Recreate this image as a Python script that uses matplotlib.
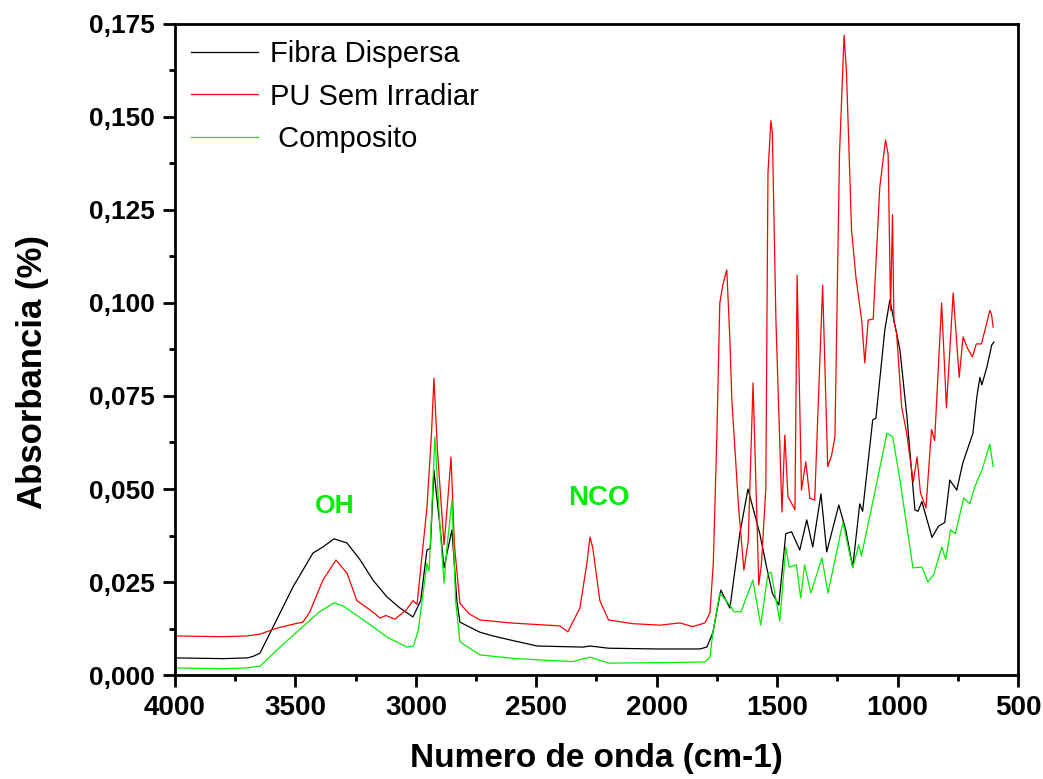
import matplotlib
matplotlib.use("Agg")
from matplotlib import pyplot as plt
from matplotlib.ticker import MultipleLocator, FuncFormatter

# Fibra Dispersa (preto)
wn_fibra = [4000, 3800, 3700, 3676, 3647, 3593, 3510, 3427, 3386, 3340, 3286, 3232, 3178, 3120,
            3066, 3012, 2980, 2954, 2940, 2925, 2900, 2883, 2870, 2850, 2830, 2817, 2734,
            2680, 2600, 2497, 2306, 2277, 2200, 2000, 1821, 1792, 1767, 1734, 1696, 1655,
            1621, 1572, 1543, 1520, 1493, 1464, 1440, 1406, 1377, 1352, 1318, 1294, 1244,
            1215, 1186, 1157, 1145, 1103, 1090, 1053, 1032, 990, 961, 928, 915, 899, 857,
            830, 804, 783, 754, 729, 687, 671, 658, 650, 629, 609, 600]
abs_fibra = [0.0046, 0.0044, 0.0046, 0.0050, 0.0059, 0.0129, 0.0237, 0.0328, 0.0344, 0.0366,
             0.0355, 0.0310, 0.0255, 0.0210, 0.0180, 0.0156, 0.0200, 0.0336, 0.0340, 0.0550,
             0.0400, 0.0288, 0.0330, 0.0390, 0.0200, 0.0142, 0.0115, 0.0105, 0.0093, 0.0078,
             0.0075, 0.0078, 0.0072, 0.0070, 0.0070, 0.0075, 0.0113, 0.0228, 0.0180, 0.0380,
             0.0500, 0.0380, 0.0288, 0.0220, 0.0188, 0.0380, 0.0385, 0.0336, 0.0417, 0.0344,
             0.0487, 0.0331, 0.0457, 0.0390, 0.0290, 0.0460, 0.0440, 0.0686, 0.0690, 0.0927,
             0.1008, 0.0874, 0.0694, 0.0444, 0.0440, 0.0466, 0.0370, 0.0400, 0.0410, 0.0524,
             0.0497, 0.0570, 0.0650, 0.0747, 0.0800, 0.0780, 0.0828, 0.0887, 0.0895]

# PU Sem Irradiar (vermelho)
wn_pu = [4000, 3800, 3700, 3647, 3577, 3500, 3469, 3440, 3386, 3332, 3286, 3245, 3195, 3170,
         3149, 3124, 3087, 3040, 3012, 2995, 2954, 2935, 2925, 2910, 2883, 2870, 2854, 2840,
         2817, 2780, 2734, 2609, 2402, 2369, 2319, 2290, 2277, 2265, 2236, 2200, 2100, 1987,
         1904, 1850, 1800, 1779, 1765, 1750, 1738, 1725, 1709, 1696, 1688, 1660, 1638, 1620,
         1600, 1576, 1565, 1547, 1538, 1526, 1520, 1505, 1480, 1468, 1455, 1426, 1417, 1399,
         1381, 1364, 1344, 1311, 1290, 1274, 1260, 1241, 1222, 1212, 1191, 1173, 1149, 1136,
         1122, 1101, 1074, 1050, 1039, 1029, 1021, 1015, 1004, 983, 962, 935, 919, 905, 882,
         859, 846, 817, 797, 769, 744, 728, 711, 689, 673, 652, 637, 617, 610, 603]
abs_pu = [0.0105, 0.0103, 0.0105, 0.0110, 0.0126, 0.0138, 0.0142, 0.0170, 0.0255, 0.0309,
          0.0274, 0.0200, 0.0177, 0.0165, 0.0153, 0.0160, 0.0150, 0.0175, 0.0200, 0.0190,
          0.0450, 0.0650, 0.0798, 0.0600, 0.0350, 0.0450, 0.0586, 0.0350, 0.0193, 0.0165,
          0.0148, 0.0140, 0.0132, 0.0116, 0.0180, 0.0300, 0.0371, 0.0340, 0.0200, 0.0148,
          0.0138, 0.0134, 0.0140, 0.0130, 0.0140, 0.0167, 0.0300, 0.0650, 0.1000, 0.1050,
          0.1089, 0.0900, 0.0740, 0.0450, 0.0282, 0.0360, 0.0785, 0.0242, 0.0300, 0.0500,
          0.1350, 0.1490, 0.1460, 0.0954, 0.0438, 0.0645, 0.0480, 0.0444, 0.1075, 0.0497,
          0.0573, 0.0475, 0.0470, 0.1048, 0.0560, 0.0590, 0.0640, 0.1400, 0.1720, 0.1620,
          0.1196, 0.1070, 0.0954, 0.0839, 0.0954, 0.0957, 0.1310, 0.1438, 0.1400, 0.0980,
          0.1237, 0.0950, 0.0920, 0.0720, 0.0650, 0.0519, 0.0586, 0.0490, 0.0449, 0.0660,
          0.0630, 0.1000, 0.0718, 0.1027, 0.0800, 0.0909, 0.0880, 0.0855, 0.0890, 0.0890,
          0.0927, 0.0980, 0.0970, 0.0935]

# Composito (verde)
wn_comp = [4000, 3800, 3700, 3647, 3564, 3452, 3400, 3340, 3300, 3261, 3178, 3120, 3037, 3010,
           2990, 2954, 2945, 2921, 2900, 2883, 2870, 2850, 2835, 2817, 2734, 2600, 2472, 2350,
           2277, 2200, 2000, 1800, 1779, 1767, 1738, 1696, 1680, 1650, 1601, 1568, 1538, 1525,
           1489, 1464, 1450, 1420, 1402, 1386, 1360, 1314, 1289, 1227, 1186, 1161, 1150, 1108,
           1044, 1020, 990, 936, 899, 874, 850, 816, 800, 780, 760, 725, 700, 680, 650, 617, 603]
abs_comp = [0.0019, 0.0017, 0.0019, 0.0024, 0.0075, 0.0140, 0.0170, 0.0194, 0.0185, 0.0167,
            0.0130, 0.0102, 0.0075, 0.0078, 0.0120, 0.0300, 0.0280, 0.0640, 0.0400, 0.0247,
            0.0350, 0.0470, 0.0200, 0.0089, 0.0054, 0.0045, 0.0040, 0.0036, 0.0048, 0.0032,
            0.0033, 0.0035, 0.0048, 0.0113, 0.0220, 0.0188, 0.0170, 0.0170, 0.0255, 0.0134,
            0.0274, 0.0276, 0.0145, 0.0344, 0.0290, 0.0296, 0.0207, 0.0296, 0.0220, 0.0315,
            0.0220, 0.0410, 0.0288, 0.0350, 0.0320, 0.0449, 0.0650, 0.0640, 0.0524, 0.0288,
            0.0290, 0.0250, 0.0270, 0.0344, 0.0310, 0.0390, 0.0380, 0.0476, 0.0460, 0.0505,
            0.0550, 0.0620, 0.0560]

fig = plt.figure(figsize=(10.43, 7.79), dpi=100)
ax = fig.add_axes([0.1678, 0.1335, 0.8082, 0.8357])

ax.plot(wn_fibra, abs_fibra, color="black", lw=0.9, label="Fibra Dispersa")
ax.plot(wn_pu, abs_pu, color="red", lw=0.9, label="PU Sem Irradiar")
ax.plot(wn_comp, abs_comp, color="#00ee00", lw=0.9, label=" Composito")

ax.set_xlim(4000, 500)
ax.set_ylim(0, 0.175)
ax.xaxis.set_major_locator(MultipleLocator(500))
ax.xaxis.set_minor_locator(MultipleLocator(250))
ax.yaxis.set_major_locator(MultipleLocator(0.025))
ax.yaxis.set_minor_locator(MultipleLocator(0.0125))
ax.yaxis.set_major_formatter(FuncFormatter(lambda v, p: f"{v:.3f}".replace(".", ",")))

for s in ax.spines.values():
    s.set_linewidth(2)
ax.tick_params(which="major", length=8.5, width=2, direction="out", pad=6)
ax.tick_params(which="minor", length=4, width=2, direction="out")
for lab in ax.get_yticklabels():
    lab.set_fontfamily("Liberation Sans")
    lab.set_fontweight("bold")
    lab.set_fontsize(19)
for lab in ax.get_xticklabels():
    lab.set_fontfamily(["Liberation Sans Narrow", "Liberation Sans"])
    lab.set_fontweight("bold")
    lab.set_fontsize(20)

ax.set_xlabel("Numero de onda (cm-1)", fontsize=24, fontweight="bold",
              family="Liberation Sans", labelpad=16)
ax.set_ylabel("Absorbancia (%)", fontsize=25, fontweight="bold",
              family="Liberation Sans")
ax.yaxis.set_label_coords(-0.15, 0.465)

ax.text(3335, 0.0455, "OH", color="#00ee00", fontsize=19, fontweight="bold",
        family="Liberation Sans", ha="center", va="center")
ax.text(2240, 0.0475, "NCO", color="#00ee00", fontsize=20, fontweight="bold",
        family="Liberation Sans", ha="center", va="center")

ax.legend(loc="upper left", frameon=False, prop={"family": "Liberation Sans", "size": 21},
          handlelength=2.3, handletextpad=0.4, borderaxespad=0.25, borderpad=0.3,
          labelspacing=0.5)

fig.savefig("out.png", dpi=100)
